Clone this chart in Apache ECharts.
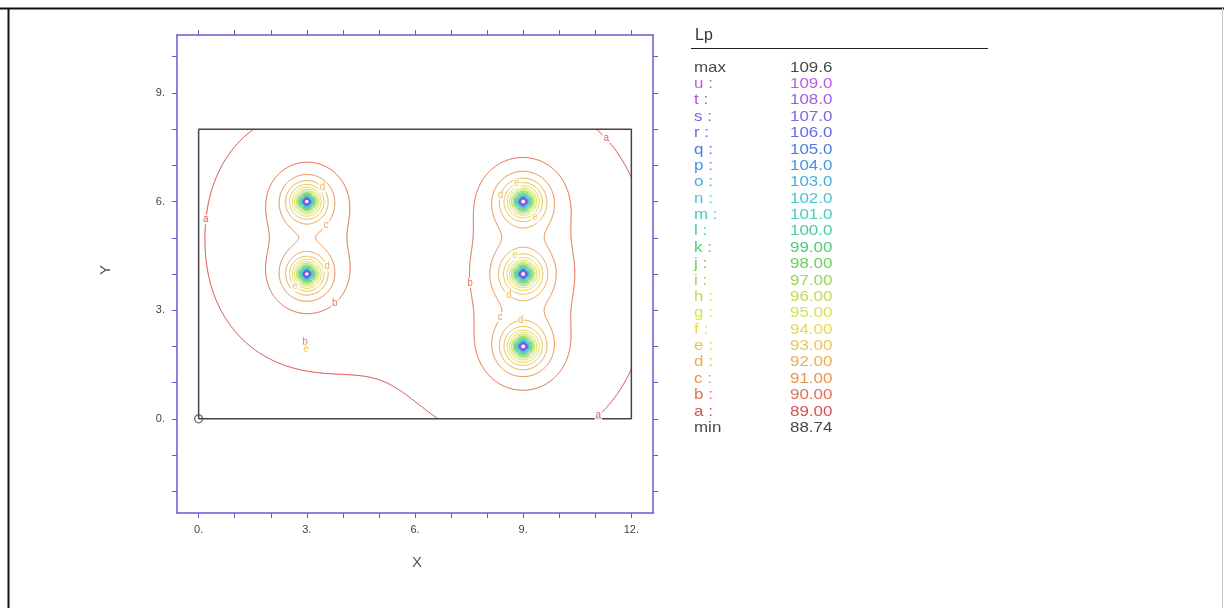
<!DOCTYPE html>
<html>
<head>
<meta charset="utf-8">
<script src="https://cdn.jsdelivr.net/npm/echarts@6/dist/echarts.min.js"></script>
<style>
  html, body { margin: 0; padding: 0; background: #fff; }
  #chart { width: 1224px; height: 608px; }
</style>
</head>
<body>
<div id="chart"></div>
<script>
// Sound pressure level (Lp) map of a 12 m x 8 m workshop with five machines.
const roomWidth = 12;
const roomDepth = 8;
const sourceX = [3, 3, 9, 9, 9];
const sourceY = [6, 4, 6, 4, 2];
const sourcePowerDb = [95.3, 95.3, 96.15, 96.15, 96.15];   // sound power level per machine, dB
const roomConstant = 106;                                   // m^2

const levelNames  = ['a','b','c','d','e','f','g','h','i','j','k','l','m','n','o','p','q','r','s','t','u'];
const levelValues = [89, 90, 91, 92, 93, 94, 95, 96, 97, 98, 99, 100, 101, 102, 103, 104, 105, 106, 107, 108, 109];
const lpMax = '109.6';
const lpMin = '88.74';

const xTickValues  = [0, 1, 2, 3, 4, 5, 6, 7, 8, 9, 10, 11, 12];
const xLabelValues = [0, 3, 6, 9, 12];
const yTickValues  = [-2, -1, 0, 1, 2, 3, 4, 5, 6, 7, 8, 9, 10];
const yLabelValues = [0, 3, 6, 9];

// rainbow palette, one colour per contour level (a .. u)
const levelColors = ['#d83a3a','#e0603c','#e6883c','#e8a63c','#e8c03a','#e6d63a','#d6de3a','#b6da3a',
  '#8cd23c','#5cca46','#3cc66a','#34c698','#30c6b8','#30bed0','#30a6dc','#3088e0','#3a6ae4','#5258e4',
  '#7250e4','#9648e0','#b848dc'];

// where the level letters are printed; snapped ones are moved onto their contour
const contourLabelSpots = [
  ['a', 0.19, 5.5, true], ['a', 11.27, 7.7, true], ['a', 10.97, 0.2, true],
  ['b', 3.75, 3.22, true], ['b', 7.5, 3.74, true],
  ['c', 3.55, 5.35, true], ['c', 8.42, 2.78, true],
  ['d', 8.6, 3.42, true], ['d', 8.94, 2.6, true], ['d', 8.34, 6.19, true], ['d', 3.45, 6.4, true], ['d', 3.55, 4.2, true],
  ['e', 8.84, 6.45, true], ['e', 9.3, 5.6, true], ['e', 8.8, 4.45, true], ['e', 2.67, 3.65, true],
  ['b', 2.95, 2.12, false], ['e', 2.98, 1.91, false]
];

// ---- field on a regular grid: direct + reverberant sound ----
const NX = 602, NY = 402;
const hx = roomWidth / (NX - 1), hy = roomDepth / (NY - 1);
const powers = sourcePowerDb.map(d => Math.pow(10, d / 10));
const reverb = powers.reduce((s, w) => s + w, 0) * 4 / roomConstant;
const field = new Float64Array(NX * NY);
for (let j = 0; j < NY; j++) {
  const y = j * hy;
  for (let i = 0; i < NX; i++) {
    const x = i * hx;
    let direct = 0;
    for (let k = 0; k < sourceX.length; k++) {
      const dx = x - sourceX[k], dy = y - sourceY[k];
      direct += powers[k] / (4 * Math.PI * Math.max(dx * dx + dy * dy, 1e-8));
    }
    field[j * NX + i] = 10 * Math.log10(direct + reverb);
  }
}

// ---- marching squares ----
const CASES = {1: [[3, 0]], 2: [[0, 1]], 3: [[3, 1]], 4: [[1, 2]], 6: [[0, 2]], 7: [[3, 2]], 8: [[2, 3]],
  9: [[0, 2]], 11: [[1, 2]], 12: [[1, 3]], 13: [[0, 1]], 14: [[3, 0]]};

function traceLevel(L) {
  const keyA = [], keyB = [];
  const pts = new Map();
  function edgePoint(e, i, j, v0, v1, v2, v3) {
    let key, x, y, t;
    if (e === 0) { key = 2 * (j * NX + i); t = (L - v0) / (v1 - v0); x = (i + t) * hx; y = j * hy; }
    else if (e === 1) { key = 2 * (j * NX + i + 1) + 1; t = (L - v1) / (v2 - v1); x = (i + 1) * hx; y = (j + t) * hy; }
    else if (e === 2) { key = 2 * ((j + 1) * NX + i); t = (L - v3) / (v2 - v3); x = (i + t) * hx; y = (j + 1) * hy; }
    else { key = 2 * (j * NX + i) + 1; t = (L - v0) / (v3 - v0); x = i * hx; y = (j + t) * hy; }
    if (!pts.has(key)) pts.set(key, [Math.round(x * 1e4) / 1e4, Math.round(y * 1e4) / 1e4]);
    return key;
  }
  for (let j = 0; j < NY - 1; j++) {
    for (let i = 0; i < NX - 1; i++) {
      const v0 = field[j * NX + i], v1 = field[j * NX + i + 1];
      const v2 = field[(j + 1) * NX + i + 1], v3 = field[(j + 1) * NX + i];
      const c = (v0 > L ? 1 : 0) | (v1 > L ? 2 : 0) | (v2 > L ? 4 : 0) | (v3 > L ? 8 : 0);
      if (c === 0 || c === 15) continue;
      let segs;
      if (c === 5 || c === 10) {
        const centreAbove = (v0 + v1 + v2 + v3) / 4 > L;
        if ((c === 5) === centreAbove) segs = [[0, 1], [2, 3]];
        else segs = [[3, 0], [1, 2]];
      } else segs = CASES[c];
      for (const s of segs) {
        keyA.push(edgePoint(s[0], i, j, v0, v1, v2, v3));
        keyB.push(edgePoint(s[1], i, j, v0, v1, v2, v3));
      }
    }
  }
  const adj = new Map();
  for (let s = 0; s < keyA.length; s++) {
    for (const k of [keyA[s], keyB[s]]) {
      if (!adj.has(k)) adj.set(k, []);
      adj.get(k).push(s);
    }
  }
  const used = new Uint8Array(keyA.length);
  const lines = [];
  function walk(start) {
    const out = [];
    let key = start;
    for (;;) {
      let nxt = -1;
      for (const t of adj.get(key)) if (!used[t]) { nxt = t; break; }
      if (nxt < 0) break;
      used[nxt] = 1;
      key = keyA[nxt] === key ? keyB[nxt] : keyA[nxt];
      out.push(key);
    }
    return out;
  }
  for (let s = 0; s < keyA.length; s++) {
    if (used[s]) continue;
    used[s] = 1;
    const fwd = walk(keyB[s]);
    const back = walk(keyA[s]);
    const keys = back.reverse().concat([keyA[s], keyB[s]], fwd);
    lines.push(keys.map(k => pts.get(k)));
  }
  return lines;
}

const contourLines = levelValues.map(traceLevel);

// place level letters, snapping them onto the nearest point of their contour
const labelData = contourLabelSpots.map(([name, lx, ly, snap]) => {
  const li = levelNames.indexOf(name);
  let best = null, bd = Infinity;
  if (snap) {
    for (const line of contourLines[li]) {
      for (const p of line) {
        const d = (p[0] - lx) ** 2 + (p[1] - ly) ** 2;
        if (d < bd) { bd = d; best = p; }
      }
    }
  }
  return {value: best || [lx, ly], label: {formatter: name, color: levelColors[li]}};
});

const FRAME = '#6a58d0';
const FONT = 'Liberation Sans, Arial, sans-serif';

function makeAxis(kind, position, ticks, labels) {
  const isX = kind === 'x';
  return {
    type: 'value',
    min: isX ? -0.6 : -2.6,
    max: isX ? 12.6 : 10.6,
    position: position,
    splitLine: {show: false},
    axisLine: {show: true, onZero: false, lineStyle: {color: FRAME, width: 1.5}},
    axisTick: {show: true, inside: false, length: 5, customValues: ticks, lineStyle: {color: FRAME, width: 1}},
    axisLabel: labels ? {
      show: true, customValues: labels, formatter: v => v + '.', margin: isX ? 11 : 12,
      color: '#444', fontSize: 11, fontFamily: FONT
    } : {show: false}
  };
}

const xAxes = [
  makeAxis('x', 'bottom', xTickValues, xLabelValues),
  makeAxis('x', 'top', xTickValues, null)
];
const yAxes = [
  makeAxis('y', 'left', yTickValues, yLabelValues),
  makeAxis('y', 'right', yTickValues, null)
];

const series = [];
contourLines.forEach((lines, li) => {
  series.push({
    type: 'lines',
    coordinateSystem: 'cartesian2d',
    polyline: true,
    silent: true,
    z: 2,
    lineStyle: {color: levelColors[li], width: 1, opacity: 1},
    data: lines.map(l => ({coords: l}))
  });
});

// room outline and origin marker
series.push({
  type: 'line',
  silent: true,
  z: 3,
  symbol: 'none',
  lineStyle: {color: '#444', width: 1.5},
  data: [[0, 0], [roomWidth, 0], [roomWidth, roomDepth], [0, roomDepth], [0, 0]]
});
series.push({
  type: 'scatter',
  silent: true,
  z: 4,
  symbol: 'circle',
  symbolSize: 8,
  itemStyle: {color: 'rgba(255,255,255,0)', borderColor: '#444', borderWidth: 1.2},
  data: [[0, 0]]
});
series.push({
  type: 'scatter',
  silent: true,
  z: 5,
  symbolSize: 0,
  label: {show: true, position: 'inside', fontSize: 10, fontFamily: FONT,
    backgroundColor: '#fff', padding: [0, 1], lineHeight: 10},
  data: labelData
});

// page frame, axis names and the level table on the right
const graphics = [
  {type: 'line', shape: {x1: 0, y1: 8.5, x2: 1224, y2: 8.5}, style: {stroke: '#111', lineWidth: 2}},
  {type: 'line', shape: {x1: 8.5, y1: 8, x2: 8.5, y2: 608}, style: {stroke: '#111', lineWidth: 2}},
  {type: 'line', shape: {x1: 1222.5, y1: 8, x2: 1222.5, y2: 608}, style: {stroke: '#c8c8c8', lineWidth: 1}},
  {type: 'text', x: 417, y: 563, style: {text: 'X', font: '15px ' + FONT, fill: '#555', align: 'center', verticalAlign: 'middle'}},
  {type: 'text', x: 106, y: 270, rotation: Math.PI / 2, style: {text: 'Y', font: '15px ' + FONT, fill: '#555', align: 'center', verticalAlign: 'middle'}},
  {type: 'text', x: 695, y: 36, style: {text: 'Lp', font: '16px ' + FONT, fill: '#333', verticalAlign: 'middle'}},
  {type: 'line', shape: {x1: 691, y1: 48.5, x2: 988, y2: 48.5}, style: {stroke: '#222', lineWidth: 1}}
];
const rows = [{name: 'max', value: lpMax, color: '#333'}];
for (let li = levelValues.length - 1; li >= 0; li--) {
  const v = levelValues[li];
  rows.push({name: levelNames[li] + ' :', value: v >= 100 ? v.toFixed(1) : v.toFixed(2), color: levelColors[li]});
}
rows.push({name: 'min', value: lpMin, color: '#333'});
rows.forEach((r, k) => {
  const y = 67.5 + k * 16.38;
  graphics.push({type: 'text', x: 694, y: y, scaleX: 1.13,
    style: {text: r.name, font: '15px ' + FONT, fill: r.color, opacity: 0.9, verticalAlign: 'middle'}});
  graphics.push({type: 'text', x: 790, y: y, scaleX: 1.13,
    style: {text: r.value, font: '15px ' + FONT, fill: r.color, opacity: 0.9, verticalAlign: 'middle'}});
});

const chart = echarts.init(document.getElementById('chart'), null, {renderer: 'canvas'});
chart.setOption({
  animation: false,
  backgroundColor: '#fff',
  grid: {left: 177, top: 35, width: 476, height: 478, containLabel: false},
  xAxis: xAxes,
  yAxis: yAxes,
  series: series,
  graphic: graphics
});
</script>
</body>
</html>
